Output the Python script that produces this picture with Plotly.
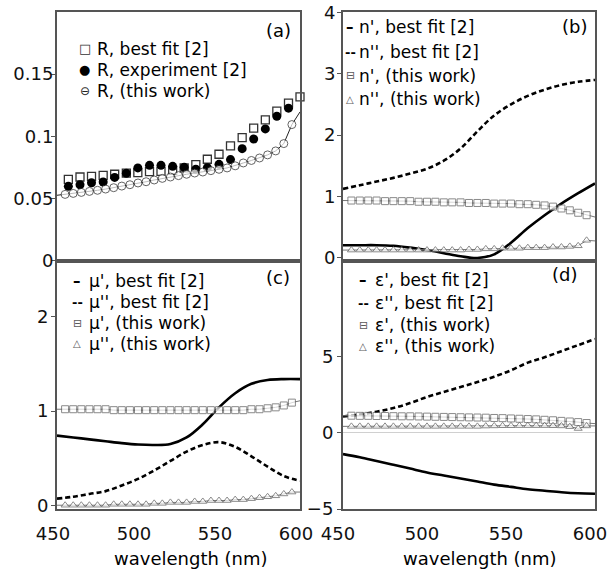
import plotly.graph_objects as go

# ---------------- data ----------------
WL_FIT = [450, 460, 470, 480, 490, 500, 510, 520, 530, 540, 550, 560, 570, 580, 590, 600]
WL_THIS = [450, 455, 460, 465, 470, 475, 480, 485, 490, 495, 500, 505, 510, 515, 520, 525,
           530, 535, 540, 545, 550, 555, 560, 565, 570, 575, 580, 585, 590, 595, 600]
WL_R = [457.0, 464.2, 471.3, 478.5, 485.6, 492.8, 499.9, 507.1, 514.2, 521.4, 528.5,
        535.7, 542.8, 550.0, 557.1, 564.3, 571.4, 578.6, 585.7, 592.9, 600.0]

# (a) reflectance
R_FIT = [0.0653, 0.0672, 0.0677, 0.0685, 0.0694, 0.0704, 0.0707, 0.0715, 0.0718, 0.0726, 0.0745,
         0.0771, 0.0815, 0.0855, 0.0922, 0.0989, 0.1065, 0.1132, 0.1202, 0.1266, 0.1317]
R_EXP = [0.0597, 0.0610, 0.0626, 0.0632, 0.0669, 0.0702, 0.0745, 0.0766, 0.0766, 0.0758,
         0.0750, 0.0734, 0.0747, 0.0774, 0.0812, 0.0900, 0.0978, 0.1059, 0.1161, 0.1226]
R_THIS = [0.0525, 0.0532, 0.0540, 0.0548, 0.0556, 0.0565, 0.0575, 0.0586, 0.0599, 0.0610, 0.0624,
          0.0634, 0.0648, 0.0661, 0.0672, 0.0683, 0.0694, 0.0704, 0.0712, 0.0723, 0.0734, 0.0745,
          0.0762, 0.0785, 0.0805, 0.0825, 0.0850, 0.0882, 0.0941, 0.1094, 0.1196]

# (b) refractive index
N1_FIT = [0.20, 0.20, 0.20, 0.19, 0.16, 0.12, 0.07, 0.02, -0.01, 0.05, 0.24, 0.48, 0.69, 0.88, 1.05, 1.21]
N2_FIT = [1.12, 1.18, 1.24, 1.30, 1.37, 1.45, 1.58, 1.78, 2.06, 2.32, 2.50, 2.64, 2.74, 2.82, 2.87, 2.90]
N1_THIS = [0.93, 0.93, 0.93, 0.93, 0.93, 0.92, 0.92, 0.92, 0.92, 0.91, 0.91, 0.91, 0.90, 0.90, 0.90,
           0.89, 0.89, 0.89, 0.88, 0.88, 0.88, 0.87, 0.87, 0.86, 0.85, 0.83, 0.80, 0.77, 0.73, 0.69, 0.66]
N2_THIS = [0.12, 0.12, 0.12, 0.12, 0.12, 0.12, 0.12, 0.12, 0.12, 0.12, 0.12, 0.12, 0.12, 0.12, 0.12,
           0.13, 0.13, 0.14, 0.14, 0.15, 0.15, 0.15, 0.16, 0.16, 0.16, 0.17, 0.17, 0.18, 0.19, 0.28, 0.27]

# (c) permeability
MU1_FIT = [0.74, 0.72, 0.70, 0.68, 0.66, 0.645, 0.64, 0.65, 0.72, 0.86, 1.04, 1.19, 1.29, 1.33, 1.34, 1.34]
MU2_FIT = [0.07, 0.09, 0.12, 0.15, 0.21, 0.28, 0.37, 0.47, 0.57, 0.64, 0.67, 0.62, 0.52, 0.41, 0.31, 0.26]
MU1_THIS = [1.02, 1.02, 1.02, 1.02, 1.02, 1.02, 1.02, 1.01, 1.01, 1.01, 1.01, 1.01, 1.01, 1.01, 1.01,
            1.01, 1.01, 1.01, 1.01, 1.01, 1.01, 1.01, 1.01, 1.01, 1.02, 1.02, 1.03, 1.04, 1.06, 1.09, 1.11]
MU2_THIS = [0.00, 0.00, 0.00, 0.00, 0.00, 0.00, 0.00, 0.01, 0.01, 0.01, 0.01, 0.01, 0.02, 0.02, 0.03,
            0.03, 0.03, 0.04, 0.04, 0.05, 0.05, 0.05, 0.06, 0.06, 0.07, 0.08, 0.09, 0.10, 0.12, 0.14, 0.14]

# (d) permittivity
EPS1_FIT = [-1.4, -1.6, -1.85, -2.1, -2.35, -2.6, -2.8, -3.0, -3.2, -3.4, -3.55, -3.7, -3.8, -3.9, -3.97, -4.0]
EPS2_FIT = [1.07, 1.2, 1.38, 1.62, 1.95, 2.35, 2.68, 3.0, 3.33, 3.68, 4.1, 4.6, 4.95, 5.35, 5.75, 6.15]
EPS1_THIS = [1.12, 1.12, 1.11, 1.11, 1.10, 1.10, 1.09, 1.08, 1.08, 1.07, 1.06, 1.05, 1.04, 1.03, 1.02,
             1.01, 1.00, 0.99, 0.97, 0.96, 0.94, 0.92, 0.90, 0.88, 0.85, 0.82, 0.78, 0.74, 0.70, 0.64, 0.60]
EPS2_THIS = [0.42, 0.42, 0.42, 0.42, 0.42, 0.42, 0.42, 0.42, 0.42, 0.42, 0.42, 0.42, 0.42, 0.42, 0.42,
             0.42, 0.42, 0.44, 0.45, 0.46, 0.46, 0.47, 0.47, 0.47, 0.47, 0.46, 0.45, 0.40, 0.28, 0.45, 0.45]

Y_TICKS_A = [0, 0.05, 0.1, 0.15]
Y_TICKTEXT_A = ["0", "0.05", "0.1", "0.15"]
Y_TICKS_B = [0, 1, 2, 3, 4]
Y_TICKS_C = [0, 1, 2]
Y_TICKS_D = [-5, 0, 5]
X_TICKS = [450, 500, 550, 600]

# ---------------- style ----------------
W, H = 610, 571
FONT = "DejaVu Sans, Liberation Sans, Arial, sans-serif"
FS = 18
LFS = 17
GRAY = "#5a5a5a"
BOX = "#555555"


def px(x, y):
    return x / W, 1 - y / H


XL = [57 / W, 300 / W]
XR = [343 / W, 595 / W]
YT = [1 - 260.5 / H, 1 - 12 / H]
YB = [1 - 509 / H, 1 - 260.5 / H]

msz = [0] + [7] * (len(WL_THIS) - 2) + [0]
msz_a = [0] + [8] * (len(WL_THIS) - 2) + [0]

fig = go.Figure()


def fit_line(x, y, xa, ya, dash):
    fig.add_trace(go.Scatter(x=x, y=y, xaxis=xa, yaxis=ya, mode="lines", showlegend=False,
                             line=dict(color="black", width=2.6, dash=dash, shape="spline")))


def this_work(x, y, xa, ya, symbol):
    fig.add_trace(go.Scatter(x=x, y=y, xaxis=xa, yaxis=ya, mode="lines+markers", showlegend=False,
                             line=dict(color="#777777", width=1),
                             marker=dict(symbol=symbol, size=msz, color="white",
                                         line=dict(color=GRAY, width=1))))


# (a)
fig.add_trace(go.Scatter(x=WL_R, y=R_FIT, xaxis="x", yaxis="y", mode="markers", showlegend=False,
                         cliponaxis=False,
                         marker=dict(symbol="square-open", size=8, color="#333333", line=dict(width=1.3))))
fig.add_trace(go.Scatter(x=WL_R[:len(R_EXP)], y=R_EXP, xaxis="x", yaxis="y", mode="markers", showlegend=False,
                         marker=dict(symbol="circle", size=9, color="black")))
fig.add_trace(go.Scatter(x=WL_THIS, y=R_THIS, xaxis="x", yaxis="y", mode="lines+markers", showlegend=False,
                         line=dict(color="#222222", width=1),
                         marker=dict(symbol="circle", size=msz_a, color="white",
                                     line=dict(color="#222222", width=1))))
# (b)
fit_line(WL_FIT, N1_FIT, "x2", "y2", "solid")
fit_line(WL_FIT, N2_FIT, "x2", "y2", "5px,3px")
this_work(WL_THIS, N1_THIS, "x2", "y2", "square")
this_work(WL_THIS, N2_THIS, "x2", "y2", "triangle-up")
# (c)
fit_line(WL_FIT, MU1_FIT, "x3", "y3", "solid")
fit_line(WL_FIT, MU2_FIT, "x3", "y3", "5px,3px")
this_work(WL_THIS, MU1_THIS, "x3", "y3", "square")
this_work(WL_THIS, MU2_THIS, "x3", "y3", "triangle-up")
# (d)
fit_line(WL_FIT, EPS1_FIT, "x4", "y4", "solid")
fit_line(WL_FIT, EPS2_FIT, "x4", "y4", "5px,3px")
this_work(WL_THIS, EPS1_THIS, "x4", "y4", "square")
this_work(WL_THIS, EPS2_THIS, "x4", "y4", "triangle-up")

axis_common = dict(showline=True, linecolor=BOX, linewidth=2, mirror=True, showgrid=False,
                   automargin=False, ticklabeloverflow="allow",
                   tickfont=dict(family=FONT, size=FS, color="#111111"))
xcommon = dict(axis_common, range=[450, 600], tickvals=X_TICKS, zeroline=False)
ycommon = dict(axis_common, ticks="outside", ticklen=4, tickcolor=BOX, tickwidth=1)

fig.update_layout(
    width=W, height=H,
    margin=dict(l=0, r=0, t=0, b=0, autoexpand=False),
    paper_bgcolor="white", plot_bgcolor="white",
    font=dict(family=FONT, size=FS, color="black"),
    xaxis=dict(xcommon, domain=XL, anchor="y", showticklabels=False, ticks=""),
    yaxis=dict(ycommon, domain=YT, anchor="x", range=[0, 0.2], tickvals=Y_TICKS_A,
               ticktext=Y_TICKTEXT_A, zeroline=False, ticklabelstandoff=-6),
    xaxis2=dict(xcommon, domain=XR, anchor="y2", showticklabels=False, ticks=""),
    yaxis2=dict(ycommon, domain=YT, anchor="x2", range=[-0.05, 4.01], tickvals=Y_TICKS_B,
                zeroline=False, ticklabelstandoff=-2),
    xaxis3=dict(xcommon, domain=XL, anchor="y3", ticks="", ticklabelstandoff=7, ticklabelshift=-4),
    yaxis3=dict(ycommon, domain=YB, anchor="x3", range=[-0.04, 2.6], tickvals=Y_TICKS_C,
                zeroline=False, ticklabelstandoff=-1),
    xaxis4=dict(xcommon, domain=XR, anchor="y4", ticks="", ticklabelstandoff=7, ticklabelshift=-5),
    yaxis4=dict(ycommon, domain=YB, anchor="x4", range=[-5, 11.3], tickvals=Y_TICKS_D,
                zeroline=True, zerolinecolor="#d0d0d0", zerolinewidth=1, ticklabelstandoff=0),
)

ann = []


def text(x, y, s, anchor="left", size=LFS, color="black"):
    xx, yy = px(x, y)
    ann.append(dict(x=xx, y=yy, xref="paper", yref="paper", text=s, showarrow=False,
                    xanchor=anchor, yanchor="middle", borderpad=0,
                    font=dict(family=FONT, size=size, color=color)))


# panel labels
text(292, 30, "(a)", "right", FS)
text(588, 27, "(b)", "right", FS)
text(291, 277, "(c)", "right", FS)
text(578, 275, "(d)", "right", FS)

# legend (a)
text(85, 49, "□", "center", 13, "#333333")
text(85, 70, "●", "center", 13, "black")
text(85, 91, "⊖", "center", 12, "#222222")
text(96, 49, "R, best fit [2]")
text(96, 70, "R, experiment [2]")
text(96, 91, "R, (this work)")


# legends (b), (c), (d)
def legend4(xs, xt, ys, var):
    text(xs, ys[0], "<b>–</b>", "center", 15, "black")
    text(xs, ys[1], "<b>--</b>", "center", 13, "black")
    text(xs, ys[2], "⊟", "center", 11, GRAY)
    text(xs, ys[3], "△", "center", 10, GRAY)
    text(xt, ys[0], f"{var}', best fit [2]")
    text(xt, ys[1], f"{var}'', best fit [2]")
    text(xt, ys[2], f"{var}', (this work)")
    text(xt, ys[3], f"{var}'', (this work)")


legend4(350, 358, [27, 52, 76, 99], "n")
legend4(77, 88, [281, 302, 323, 344], "μ")
legend4(363, 374, [280, 303, 325, 346], "ε")

# x axis titles
text(191, 558, "wavelength (nm)", "center", FS)
text(480, 558, "wavelength (nm)", "center", FS)

fig.update_layout(annotations=ann)
fig.write_html("out.html", config={"displayModeBar": False},
               post_script="document.body.style.margin='0';document.body.style.padding='0';")
